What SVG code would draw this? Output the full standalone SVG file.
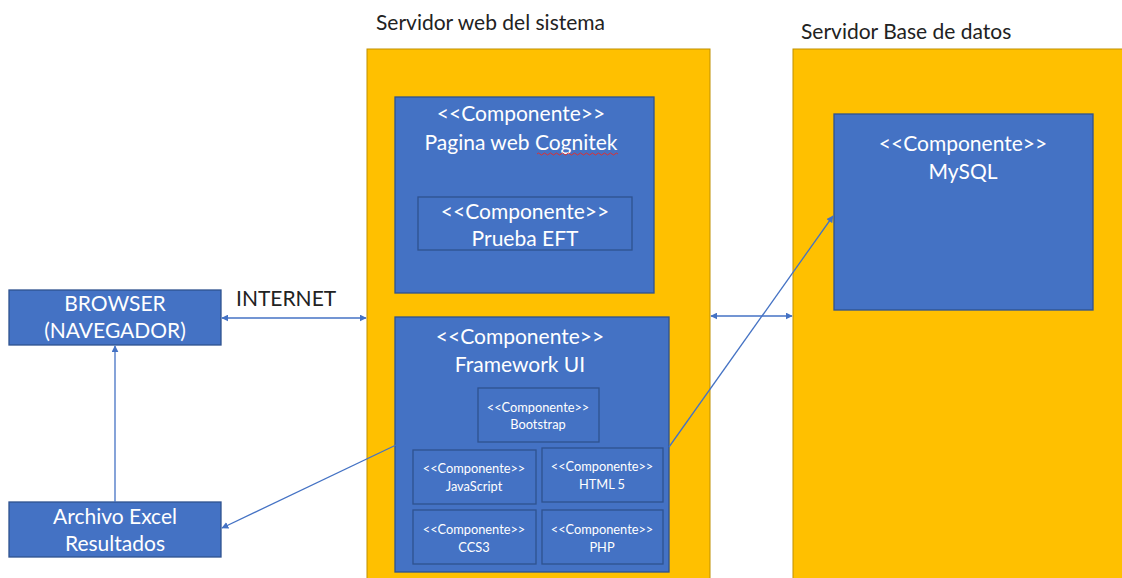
<svg xmlns="http://www.w3.org/2000/svg" width="1122" height="578" viewBox="0 0 1122 578">
<defs>
<style>
.srv{fill:#FFC000;stroke:#BF9000;stroke-width:1}
.cmp{fill:#4472C4;stroke:#2F528F;stroke-width:1.3}
.t{font-family:Lato,"Liberation Sans",sans-serif;fill:#fff;text-anchor:middle}
.big{font-size:21px}
.sm{font-size:12.8px}
.title{font-family:Lato,"Liberation Sans",sans-serif;font-size:21px;fill:#222}
.ln{stroke:#4472C4;stroke-width:1.3;fill:none}
</style>
<marker id="ah" viewBox="0 0 10 10" refX="9" refY="5" markerWidth="7" markerHeight="7" orient="auto-start-reverse" markerUnits="userSpaceOnUse">
<path d="M0,0 L10,5 L0,10 z" fill="#4472C4"/>
</marker>
</defs>
<rect width="1122" height="578" fill="#fff"/>

<g id="servidor-web">
<text class="title" x="376" y="30">Servidor web del sistema</text>
<rect class="srv" x="367" y="49" width="343" height="540"/>
</g>
<g id="servidor-bd">
<text class="title" x="801" y="39">Servidor Base de datos</text>
<rect class="srv" x="793" y="49" width="340" height="540"/>
</g>

<g id="pagina-web">
<rect class="cmp" x="395" y="97" width="259" height="196"/>
<text class="t big" x="521" y="121">&lt;&lt;Componente&gt;&gt;</text>
<text class="t big" x="521" y="150">Pagina web Cognitek</text>
<path d="M537,154 q1.5,-2 3,0 t3,0 t3,0 t3,0 t3,0 t3,0 t3,0 t3,0 t3,0 t3,0 t3,0 t3,0 t3,0 t3,0 t3,0 t3,0 t3,0 t3,0 t3,0 t3,0 t3,0 t3,0 t3,0 t3,0 t3,0 t3,0 t3,0" stroke="#E03030" stroke-width="1" fill="none"/>
</g>
<g id="prueba-eft">
<rect class="cmp" x="418" y="197" width="214" height="53"/>
<text class="t big" x="525" y="219">&lt;&lt;Componente&gt;&gt;</text>
<text class="t big" x="525" y="246">Prueba EFT</text>
</g>

<g id="framework-ui">
<rect class="cmp" x="395" y="317" width="274" height="255"/>
<text class="t big" x="520" y="344">&lt;&lt;Componente&gt;&gt;</text>
<text class="t big" x="520" y="372">Framework UI</text>
</g>
<g id="bootstrap">
<rect class="cmp" x="478" y="388" width="121" height="54"/>
<text class="t sm" x="538" y="412">&lt;&lt;Componente&gt;&gt;</text>
<text class="t sm" x="538" y="429">Bootstrap</text>
</g>
<g id="javascript">
<rect class="cmp" x="413" y="450" width="123" height="54"/>
<text class="t sm" x="474" y="473">&lt;&lt;Componente&gt;&gt;</text>
<text class="t sm" x="474" y="491">JavaScript</text>
</g>
<g id="html5">
<rect class="cmp" x="542" y="448" width="121" height="54"/>
<text class="t sm" x="602" y="471">&lt;&lt;Componente&gt;&gt;</text>
<text class="t sm" x="602" y="489">HTML 5</text>
</g>
<g id="ccs3">
<rect class="cmp" x="413" y="510" width="123" height="54"/>
<text class="t sm" x="474" y="534">&lt;&lt;Componente&gt;&gt;</text>
<text class="t sm" x="474" y="552">CCS3</text>
</g>
<g id="php">
<rect class="cmp" x="542" y="510" width="121" height="54"/>
<text class="t sm" x="602" y="534">&lt;&lt;Componente&gt;&gt;</text>
<text class="t sm" x="602" y="552">PHP</text>
</g>

<g id="mysql">
<rect class="cmp" x="834" y="114" width="259" height="196"/>
<text class="t big" x="963" y="151">&lt;&lt;Componente&gt;&gt;</text>
<text class="t big" x="963" y="179">MySQL</text>
</g>

<g id="browser">
<rect class="cmp" x="9" y="290" width="212" height="55"/>
<text class="t big" x="115" y="311">BROWSER</text>
<text class="t big" x="115" y="338">(NAVEGADOR)</text>
</g>
<g id="archivo-excel">
<rect class="cmp" x="9" y="502" width="212" height="55"/>
<text class="t big" x="115" y="524">Archivo Excel</text>
<text class="t big" x="115" y="551">Resultados</text>
</g>

<g id="connectors">
<text class="title" x="236" y="306">INTERNET</text>
<line class="ln" x1="222" y1="318" x2="366" y2="318" marker-start="url(#ah)" marker-end="url(#ah)"/>
<line class="ln" x1="711" y1="316" x2="792" y2="316" marker-start="url(#ah)" marker-end="url(#ah)"/>
<line class="ln" x1="115" y1="502" x2="115" y2="346" marker-end="url(#ah)"/>
<line class="ln" x1="396" y1="445" x2="222" y2="528" marker-end="url(#ah)"/>
<line class="ln" x1="669" y1="447" x2="833" y2="216" marker-end="url(#ah)"/>
</g>
</svg>
